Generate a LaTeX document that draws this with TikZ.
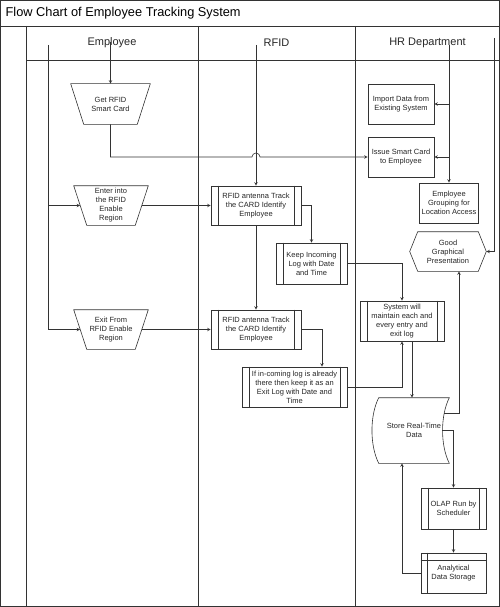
\documentclass[tikz,border=0pt]{standalone}
\usepackage{fontspec}
\setmainfont{Liberation Sans}
\usetikzlibrary{arrows, calc}

\begin{document}
\begin{tikzpicture}[
            x = 1pt, y = -1pt, % pixel grid, y runs down
            > = stealth, % arrow head style
            line width = 0.6pt, % line style
            color = black!80,
            font = \fontsize{7.5}{9}\selectfont
        ]

        \tikzstyle{freebox}=[
            inner sep = 0pt,
            align = center,
            text = black!85
        ]
        \tikzstyle{plainbox}=[freebox, draw = black!80]
        \tikzstyle{lanelabel}=[font = \fontsize{11}{13}\selectfont, text = black!85]

        \useasboundingbox (0,0) rectangle (500,607);

        % frame and swimlanes
        \draw (0.5,0.5) rectangle (499.5,606.5);
        \draw (0,26) -- (500,26);
        \foreach \x in {26,198,355} \draw (\x,26) -- (\x,607);
        \draw (26,60) -- (500,60);

        \node[anchor = west, font = \fontsize{12.8}{15}\selectfont, text = black] (title) at (2,13) {Flow Chart of Employee Tracking System};
        \node[lanelabel] (lempl) at (112,43) {Employee};
        \node[lanelabel] (lrfid) at (276.5,43) {RFID};
        \node[lanelabel] (lhr) at (427.5,43) {HR Department};

        % employee lane
        \node[freebox, minimum width = 66pt, minimum height = 40pt] (getcard) at (110.5,104) {Get RFID\\Smart Card};
        \node[freebox, minimum width = 61pt, minimum height = 39pt] (enterreg) at (111,205.5) {Enter into\\the RFID\\Enable\\Region};
        \node[freebox, minimum width = 61pt, minimum height = 39pt] (exitreg) at (111,329.5) {Exit From\\RFID Enable\\Region};

        % rfid lane
        \node[plainbox, minimum width = 90pt, minimum height = 39pt] (rfidA) at (256,205.5) {RFID antenna Track\\the CARD Identify\\Employee};
        \node[plainbox, minimum width = 71pt, minimum height = 41pt] (keeplog) at (311.5,263.5) {Keep Incoming\\Log with Date\\and Time};
        \node[plainbox, minimum width = 90pt, minimum height = 39pt] (rfidB) at (256,329.5) {RFID antenna Track\\the CARD Identify\\Employee};
        \node[plainbox, minimum width = 105pt, minimum height = 40pt] (ifexit) at (294.5,387) {If in-coming log is already\\there then keep it as an\\Exit Log with Date and\\Time};

        % hr lane
        \node[plainbox, minimum width = 66pt, minimum height = 40pt] (importdata) at (401,104) {Import Data from\\Existing System};
        \node[plainbox, minimum width = 66pt, minimum height = 40pt] (issuecard) at (401,157) {Issue Smart Card\\to Employee};
        \node[plainbox, minimum width = 59pt, minimum height = 40pt] (empgroup) at (449,203) {Employee\\Grouping for\\Location Access};
        \node[freebox, minimum width = 76pt, minimum height = 39pt] (goodpres) at (448,251.5) {Good\\Graphical\\Presentation};
        \node[plainbox, minimum width = 84pt, minimum height = 40pt] (sysmaint) at (402,321) {System will\\maintain each and\\every entry and\\exit log};
        \node[freebox, minimum width = 70pt, minimum height = 65pt] (storedata) at (414,430.5) {Store Real-Time\\Data};
        \node[plainbox, minimum width = 65pt, minimum height = 41pt] (olap) at (453.5,508.5) {OLAP Run by\\Scheduler};
        \node[plainbox, minimum width = 65pt, minimum height = 40pt] (analytic) at (453.5,573) {Analytical\\Data Storage};

        % outlines of the special shapes
        \foreach \n in {getcard, enterreg, exitreg}
            \draw ([xshift=-6.5pt]\n.north west) -- ([xshift=6.5pt]\n.north east)
                -- ([xshift=-6.5pt]\n.south east) -- ([xshift=6.5pt]\n.south west) -- cycle;
        \foreach \n in {rfidA, keeplog, rfidB, ifexit, sysmaint, olap} {
            \draw ([xshift=7.5pt]\n.north west) -- ([xshift=7.5pt]\n.south west);
            \draw ([xshift=-7.5pt]\n.north east) -- ([xshift=-7.5pt]\n.south east);
        }
        \draw (goodpres.west) -- ([xshift=8pt]goodpres.north west) -- ([xshift=-8pt]goodpres.north east)
            -- (goodpres.east) -- ([xshift=-8pt]goodpres.south east) -- ([xshift=8pt]goodpres.south west) -- cycle;
        \draw (storedata.north west) -- (storedata.north east)
            .. controls ([xshift=-9pt,yshift=-18pt]storedata.north east) and ([xshift=-9pt,yshift=18pt]storedata.south east) .. (storedata.south east)
            -- (storedata.south west)
            .. controls ([xshift=-9pt,yshift=18pt]storedata.south west) and ([xshift=-9pt,yshift=-18pt]storedata.north west) .. (storedata.north west);
        \draw ([yshift=-8pt]analytic.north west) -- ([yshift=-8pt]analytic.north east);
        \draw ([xshift=7pt]analytic.north west) -- ([xshift=7pt]analytic.south west);

        % free ends at the top of the lanes
        \coordinate (emptop) at (48,45);
        \coordinate (cardtop) at (110.5,42);
        \coordinate (rfidtop) at (256,45);
        \coordinate (hrtop) at (449,45);
        \coordinate (prestop) at (494,38);

        % connectors
        \draw[->] (cardtop) -- (getcard.north);
        \draw[->] (getcard.south) |- ($(rfidtop |- issuecard.west)+(-4,0)$)
            arc[start angle = 180, end angle = 0, radius = 4pt] -- (issuecard.west);
        \draw[->] (emptop) |- (exitreg.west);
        \draw[->] (emptop |- enterreg.west) -- (enterreg.west);
        \draw[->] (enterreg.east) -- (rfidA.west);
        \draw[->] (exitreg.east) -- (rfidB.west);
        \draw[->] (rfidtop) -- (rfidA.north);
        \draw[->] (rfidA.south) -- (rfidB.north);
        \draw[->] (rfidA.east) -| (keeplog.north);
        \draw[->] (rfidB.east) -| ([xshift=27.5pt]ifexit.north);
        \draw[->] (keeplog.east) -| (sysmaint.north);
        \draw[->] (ifexit.east) -| (sysmaint.south);
        \draw[->] (hrtop) -- (empgroup.north);
        \draw[->] (hrtop |- importdata.east) -- (importdata.east);
        \draw[->] (hrtop |- issuecard.east) -- (issuecard.east);
        \draw[->] (prestop) |- (goodpres.east);
        \draw[->] ([xshift=10pt]sysmaint.south) -- ([xshift=10pt]sysmaint.south |- storedata.north);
        \draw[->] ([xshift=-5pt,yshift=17pt]storedata.east) -| ([xshift=11pt]goodpres.south);
        \draw[->] ([xshift=-7pt]storedata.east) -| (olap.north);
        \draw[->] (olap.south) -- (analytic.north);
        \draw[->] (analytic.west) -| ([xshift=-12pt]storedata.south);

    \end{tikzpicture}
\end{document}
